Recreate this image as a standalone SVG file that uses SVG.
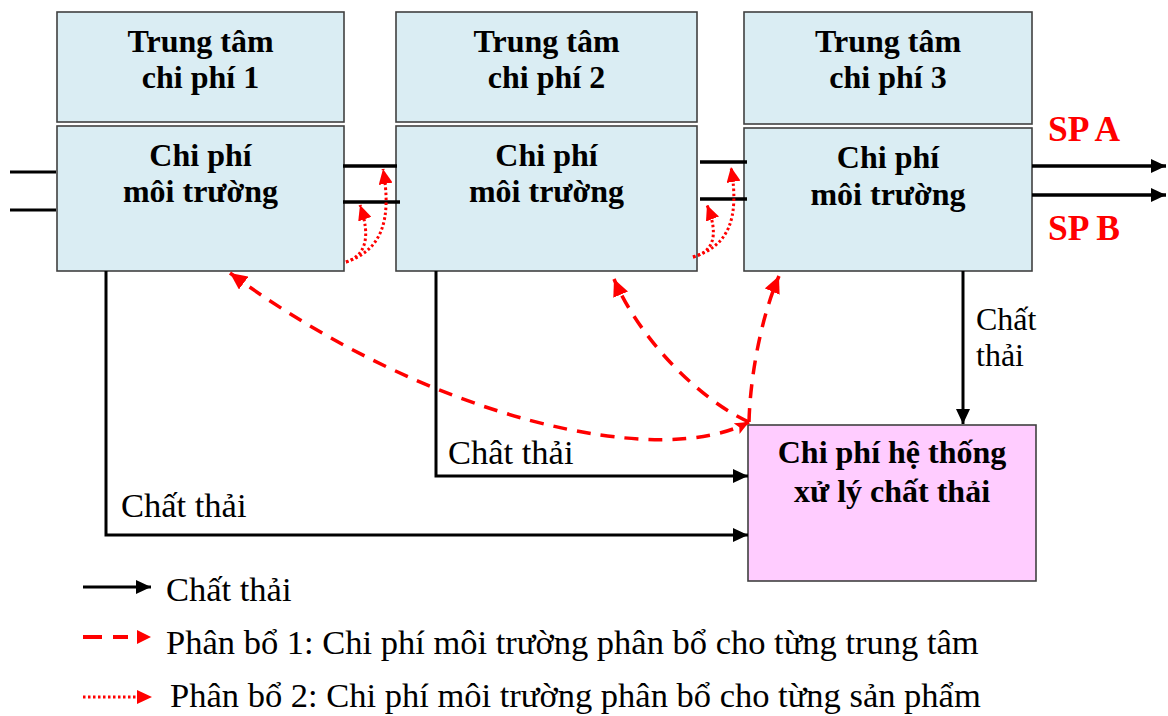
<svg xmlns="http://www.w3.org/2000/svg" width="1168" height="716" viewBox="0 0 1168 716">
<style>
.box{fill:#DAEDF3;stroke:#404040;stroke-width:1.6}
.pink{fill:#FFCCFF;stroke:#404040;stroke-width:1.6}
.bt{font-family:"Liberation Serif","Times New Roman",serif;font-weight:bold;font-size:32px;fill:#000;text-anchor:middle}
.rt{font-family:"Liberation Serif","Times New Roman",serif;font-size:34.5px;fill:#000}
.sp{font-family:"Liberation Serif","Times New Roman",serif;font-weight:bold;font-size:35.5px;fill:#FF0000}
.bl{stroke:#000;stroke-width:3;fill:none}
.flow{stroke:#000;stroke-width:3.5;fill:none}
.dash{stroke:#FF0000;stroke-width:3.5;fill:none;stroke-dasharray:14 10}
.dot{stroke:#FF0000;stroke-width:3;fill:none;stroke-dasharray:2.5 2.5}
</style>
<defs>
<marker id="ba" markerUnits="userSpaceOnUse" markerWidth="16" markerHeight="14" refX="15" refY="7" orient="auto"><path d="M0,0 L15,7 L0,14 z" fill="#000"/></marker>
<marker id="ra" markerUnits="userSpaceOnUse" markerWidth="18" markerHeight="16" refX="17" refY="8" orient="auto"><path d="M0,0 L17,8 L0,16 z" fill="#FF0000"/></marker>
<marker id="rstart" markerUnits="userSpaceOnUse" markerWidth="18" markerHeight="16" refX="17" refY="8" orient="auto-start-reverse"><path d="M0,0 L17,8 L0,16 z" fill="#FF0000"/></marker>
<marker id="rchev" markerUnits="userSpaceOnUse" markerWidth="16" markerHeight="14" refX="14" refY="6" orient="auto"><path d="M0,0 L14,6 L0,12 L3,6 z" fill="#FF0000"/></marker>
<marker id="rs" markerUnits="userSpaceOnUse" markerWidth="16" markerHeight="14" refX="15" refY="7" orient="auto"><path d="M0,0 L15,7 L0,14 z" fill="#FF0000"/></marker>
</defs>

<g id="center1">
<rect class="box" x="57" y="12" width="287" height="110"/>
<text class="bt" x="200.5" y="52">Trung tâm</text>
<text class="bt" x="200.5" y="88">chi phí 1</text>
</g>
<g id="env1">
<rect class="box" x="57" y="126" width="287" height="145"/>
<text class="bt" x="200.5" y="166">Chi phí</text>
<text class="bt" x="200.5" y="202">môi trường</text>
</g>
<g id="center2">
<rect class="box" x="396" y="12" width="301" height="110"/>
<text class="bt" x="546.5" y="52">Trung tâm</text>
<text class="bt" x="546.5" y="88">chi phí 2</text>
</g>
<g id="env2">
<rect class="box" x="396" y="126" width="301" height="145"/>
<text class="bt" x="546.5" y="166">Chi phí</text>
<text class="bt" x="546.5" y="202">môi trường</text>
</g>
<g id="center3">
<rect class="box" x="744" y="12" width="288" height="112"/>
<text class="bt" x="888" y="52">Trung tâm</text>
<text class="bt" x="888" y="88">chi phí 3</text>
</g>
<g id="env3">
<rect class="box" x="744" y="128" width="288" height="143"/>
<text class="bt" x="888" y="168">Chi phí</text>
<text class="bt" x="888" y="205">môi trường</text>
</g>
<g id="treatment">
<rect class="pink" x="748" y="425" width="288" height="156"/>
<text class="bt" x="892" y="463">Chi phí hệ thống</text>
<text class="bt" x="892" y="502">xử lý chất thải</text>
</g>

<g id="connectors">
<line class="bl" x1="10" y1="172" x2="56" y2="172"/>
<line class="bl" x1="10" y1="210" x2="56" y2="210"/>
<line class="flow" x1="343" y1="166" x2="397" y2="166"/>
<line class="flow" x1="343" y1="202" x2="400" y2="202"/>
<line class="flow" x1="700" y1="162" x2="747" y2="162"/>
<line class="flow" x1="700" y1="199" x2="747" y2="199"/>
<line class="flow" x1="1032" y1="166" x2="1166" y2="166" marker-end="url(#ba)"/>
<line class="flow" x1="1032" y1="195" x2="1166" y2="195" marker-end="url(#ba)"/>
<polyline class="bl" points="106,271 106,535 748,535" marker-end="url(#ba)"/>
<polyline class="bl" points="436,271 436,476 748,476" marker-end="url(#ba)"/>
<line class="bl" x1="963" y1="271" x2="963" y2="424" marker-end="url(#ba)"/>

<path class="dot" d="M346,262 C364,256 372,240 360,205" marker-end="url(#rs)"/>
<path class="dot" d="M346,262 C382,250 392,220 383,169" marker-end="url(#rs)"/>
<path class="dot" d="M693,257 C712,252 720,238 707,205" marker-end="url(#rs)"/>
<path class="dot" d="M693,257 C728,246 740,220 731,167" marker-end="url(#rs)"/>

<path class="dash" d="M230,273 C430,420 660,470 749,422" marker-start="url(#rstart)" marker-end="url(#rchev)"/>
<path class="dash" d="M749,422 C700,400 640,340 614,279" marker-end="url(#ra)"/>
<path class="dash" d="M749,422 C750,380 760,320 779,276" marker-end="url(#ra)"/>
</g>

<g id="labels">
<text class="sp" x="1048" y="141">SP A</text>
<text class="sp" x="1048" y="240">SP B</text>
<text class="rt" style="font-size:32px"><tspan x="976" y="330">Chất</tspan><tspan x="976" y="366">thải</tspan></text>
<text class="rt" x="448" y="464">Chât thải</text>
<text class="rt" x="121" y="517">Chất thải</text>
</g>

<g id="legend">
<line class="bl" x1="83" y1="587" x2="151" y2="587" marker-end="url(#ba)"/>
<text class="rt" x="166" y="601">Chất thải</text>
<line stroke="#FF0000" stroke-width="4" x1="83" y1="637" x2="102" y2="637"/>
<line stroke="#FF0000" stroke-width="4" x1="113" y1="637" x2="128" y2="637"/>
<path d="M137,630 L151,637 L137,644 z" fill="#FF0000"/>
<text class="rt" x="166" y="654">Phân bổ 1: Chi phí môi trường phân bổ cho từng trung tâm</text>
<line class="dot" x1="83" y1="697" x2="137" y2="697"/>
<path d="M137,690 L152,697 L137,704 z" fill="#FF0000"/>
<text class="rt" x="170" y="707">Phân bổ 2: Chi phí môi trường phân bổ cho từng sản phẩm</text>
</g>
</svg>
